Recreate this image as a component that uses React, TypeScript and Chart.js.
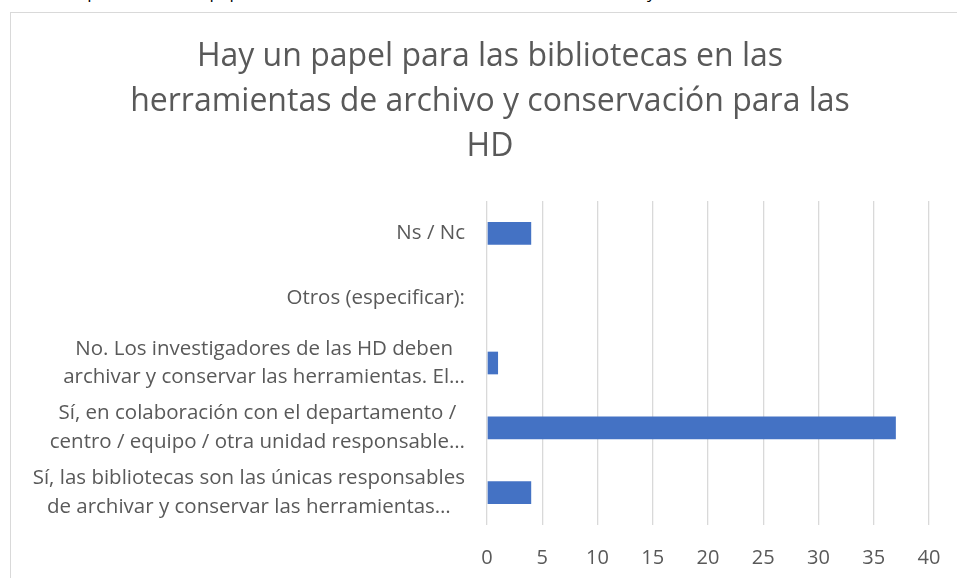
import React, { useEffect, useRef } from "react";
import { Chart, registerables } from "chart.js";

Chart.register(...registerables);

const TOP_CAPTION = "Gráfico. Opinión sobre el papel de las bibliotecas en las herramientas de archivo y conservación";
const TITLE_LINES = [
  "Hay un papel para las bibliotecas en las",
  "herramientas de archivo y conservación para las",
  "HD",
];
const CATEGORY_LABELS: string[][] = [
  ["Ns / Nc"],
  ["Otros (especificar):"],
  ["No. Los investigadores de las HD deben", "archivar y conservar las herramientas. El…"],
  ["Sí, en colaboración con el departamento /", "centro / equipo / otra unidad responsable…"],
  ["Sí, las bibliotecas son las únicas responsables", "de archivar y conservar las herramientas…"],
];
const VALUES = [4, 0, 1, 37, 4];
const X_MIN = 0;
const X_MAX = 40;
const X_STEP = 5;

const FONT = '"Open Sans", "DejaVu Sans", sans-serif';
const TEXT_COLOR = "#595959";
const GRID_COLOR = "#d9d9d9";
const BAR_COLOR = "#4472C4";
const LABEL_SIZE = 20.5;
const LABEL_LINE = 28.5;

const categoryLabelPlugin = {
  id: "categoryLabels",
  afterDraw(chart: any) {
    const yScale = chart.scales.y;
    const ctx = chart.ctx;
    ctx.save();
    ctx.font = `${LABEL_SIZE}px ${FONT}`;
    ctx.fillStyle = TEXT_COLOR;
    ctx.textAlign = "center";
    ctx.textBaseline = "middle";
    const right = chart.chartArea.left - 22;
    CATEGORY_LABELS.forEach((lines, i) => {
      const cy = yScale.getPixelForValue(i);
      const maxW = Math.max(...lines.map((l) => ctx.measureText(l).width));
      const cx = right - maxW / 2;
      lines.forEach((l, j) => {
        ctx.fillText(l, cx, cy + (j - (lines.length - 1) / 2) * LABEL_LINE);
      });
    });
    ctx.restore();
  },
};

function BarChart() {
  const ref = useRef<HTMLCanvasElement | null>(null);
  useEffect(() => {
    if (!ref.current) return;
    const chart = new Chart(ref.current, {
      type: "bar",
      data: {
        labels: CATEGORY_LABELS.map((l) => l.join(" ")),
        datasets: [
          {
            data: VALUES,
            backgroundColor: BAR_COLOR,
            borderWidth: 0,
            categoryPercentage: 1,
            barPercentage: 0.35,
          },
        ],
      },
      options: {
        indexAxis: "y",
        animation: false,
        responsive: false,
        layout: { padding: { left: 51, right: 28, top: 0, bottom: 0 } },
        plugins: {
          legend: { display: false },
          tooltip: { enabled: false },
          title: {
            display: true,
            text: TITLE_LINES,
            color: TEXT_COLOR,
            align: "center",
            font: { family: FONT, size: 32, weight: "normal", lineHeight: 45 / 32 },
            padding: { top: 34, bottom: 32 },
          },
        },
        scales: {
          x: {
            type: "linear",
            min: X_MIN,
            max: X_MAX,
            ticks: {
              stepSize: X_STEP,
              color: TEXT_COLOR,
              font: { family: FONT, size: 20 },
              padding: 21,
            },
            grid: { color: GRID_COLOR, lineWidth: 1.3, drawTicks: false },
            border: { display: false },
            afterFit: (scale: any) => {
              scale.height = 53;
              scale.paddingLeft = 0;
              scale.paddingRight = 0;
            },
          },
          y: {
            type: "category",
            ticks: { display: false },
            grid: { display: false },
            border: { display: false },
            afterFit: (scale: any) => {
              scale.width = 436;
            },
          },
        },
      },
      plugins: [categoryLabelPlugin],
    } as any);
    return () => chart.destroy();
  }, []);
  return (
    <canvas
      ref={ref}
      width={957}
      height={578}
      style={{ position: "absolute", left: 0, top: 0, width: 957, height: 578 }}
    />
  );
}

export default function App() {
  return (
    <div
      style={{
        position: "fixed",
        left: 0,
        top: 0,
        width: 957,
        height: 578,
        overflow: "hidden",
        background: "#ffffff",
      }}
    >
      <div
        style={{
          position: "absolute",
          left: 8,
          top: -18,
          whiteSpace: "nowrap",
          fontFamily: FONT,
          fontSize: 17,
          lineHeight: "20px",
          color: "#000",
        }}
      >
        {TOP_CAPTION}
      </div>
      <div
        style={{
          position: "absolute",
          left: 10,
          top: 12,
          width: 1200,
          height: 1200,
          border: `1px solid ${GRID_COLOR}`,
        }}
      />
      <BarChart />
    </div>
  );
}
